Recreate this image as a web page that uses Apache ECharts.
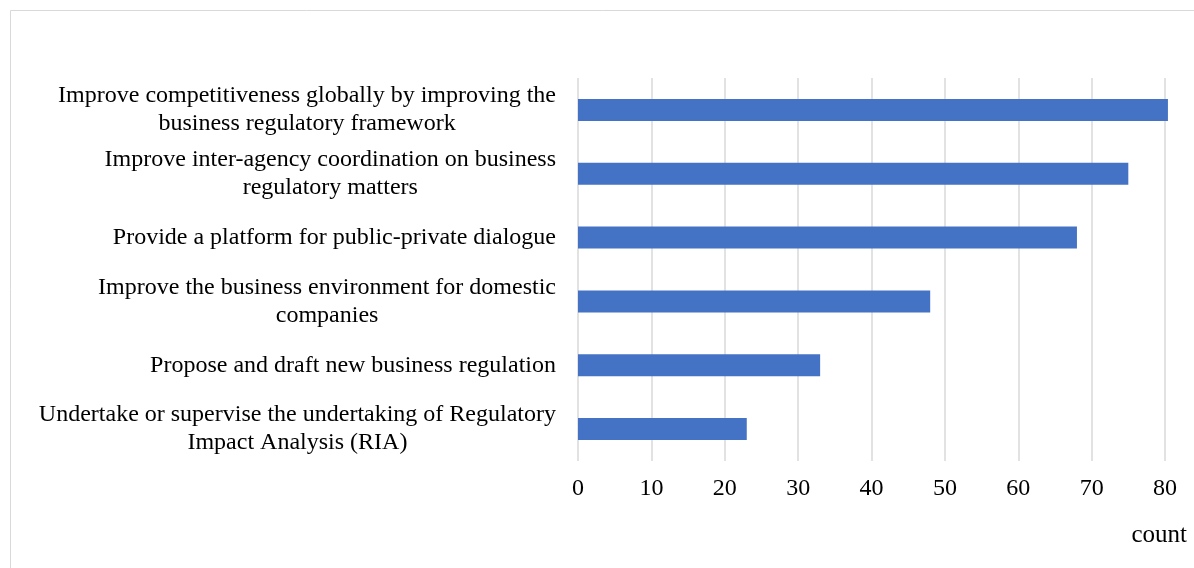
<!DOCTYPE html>
<html>
<head>
<meta charset="utf-8">
<title>Objectives</title>
<script src="https://cdn.jsdelivr.net/npm/echarts@6/dist/echarts.min.js"></script>
<style>
  html, body { margin: 0; padding: 0; background: #ffffff; }
  #chart { width: 1194px; height: 568px; }
</style>
</head>
<body>
<div id="chart"></div>
<script>
// Objectives, listed top to bottom
var categories = [
  'Improve competitiveness globally by improving the\nbusiness regulatory framework',
  'Improve inter-agency coordination on business\nregulatory matters',
  'Provide a platform for public-private dialogue',
  'Improve the business environment for domestic\ncompanies',
  'Propose and draft new business regulation',
  'Undertake or supervise the undertaking of Regulatory\nImpact Analysis (RIA)'
];
// Number of responses per objective
var counts = [80.4, 75, 68, 48, 33, 23];
// Value axis ticks
var axisMin = 0;
var axisMax = 80;
var axisStep = 10;
var axisTitle = 'count';

var FONT = '"Liberation Serif", "Times New Roman", serif';

var chart = echarts.init(document.getElementById('chart'), null, { renderer: 'canvas' });

chart.setOption({
  backgroundColor: '#ffffff',
  animation: false,
  graphic: [{
    type: 'rect',
    shape: { x: 10.5, y: 10.5, width: 1200, height: 600 },
    style: { fill: 'none', stroke: '#d9d9d9', lineWidth: 1 },
    silent: true
  }],
  grid: { left: 578, right: 29, top: 78, bottom: 107, containLabel: false },
  xAxis: {
    type: 'value',
    min: axisMin,
    max: axisMax,
    interval: axisStep,
    name: axisTitle,
    nameLocation: 'end',
    nameGap: 22,
    nameTextStyle: {
      fontFamily: FONT, fontSize: 25, color: '#000000',
      align: 'right', verticalAlign: 'top', padding: [62, 0, 0, 0]
    },
    axisLine: { show: false },
    axisTick: { show: false },
    axisLabel: { fontFamily: FONT, fontSize: 24, color: '#000000', margin: 16 },
    splitLine: { show: true, lineStyle: { color: '#d9d9d9', width: 1.5 } }
  },
  yAxis: {
    type: 'category',
    data: categories,
    inverse: true,
    axisLine: { show: false },
    axisTick: { show: false },
    splitLine: { show: false },
    axisLabel: {
      margin: 22,
      align: 'right',
      fontFamily: FONT,
      fontSize: 24,
      lineHeight: 28,
      color: '#000000',
      formatter: function (value) {
        return value.split('\n').map(function (line) {
          return '{c|' + line + '}';
        }).join('\n');
      },
      rich: {
        c: { align: 'center', fontFamily: FONT, fontSize: 24, lineHeight: 28, color: '#000000' }
      }
    }
  },
  series: [{
    type: 'bar',
    data: counts,
    barWidth: 22,
    clip: false,
    itemStyle: { color: '#4472c4' }
  }]
});
</script>
</body>
</html>
